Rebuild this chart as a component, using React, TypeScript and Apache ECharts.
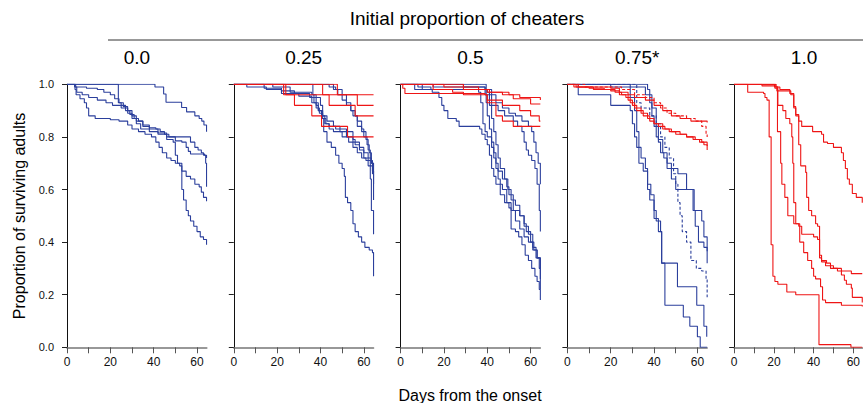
import React, { useEffect, useRef } from 'react';
import * as echarts from 'echarts';

type Curve = number[][];

const title = 'Initial proportion of cheaters';
const xTitle = 'Days from the onset';
const yTitle = 'Proportion of surviving adults';
const panelLabels = ['0.0', '0.25', '0.5', '0.75*', '1.0'];
const xTickValues = [0, 10, 20, 30, 40, 50, 60];
const xLabelValues = [0, 20, 40, 60];
const X_MAX = 64.5;

// Panel 0.0
const p1Blue: Curve[] = [
  [[0,1],[40.6,0.99],[44.6,0.963],[45.7,0.932],[52.9,0.912],[55.2,0.895],[59,0.88],[61,0.87],[62.2,0.86],[63.2,0.845],[64.4,0.82]],
  [[0,1],[3.7,0.98],[4.2,0.96],[6,0.945],[8,0.93],[9,0.91],[10,0.88],[13,0.87],[20,0.865],[24,0.86],[28,0.845],[30,0.83],[33,0.82],[36,0.81],[39,0.8],[41,0.78],[42.5,0.76],[44,0.74],[46,0.72],[48,0.71],[50,0.7],[52,0.69],[53,0.6],[53.8,0.56],[55,0.52],[56,0.5],[57,0.48],[58.5,0.46],[60,0.44],[61.5,0.42],[63,0.41],[64.4,0.39]],
  [[0,1],[23.7,0.93],[25,0.92],[27,0.9],[29,0.885],[31,0.87],[33,0.86],[35,0.845],[38,0.835],[41,0.83],[43,0.82],[45,0.81],[47,0.8],[55,0.8],[57,0.78],[59,0.76],[60.5,0.75],[62,0.74],[63,0.73],[64.4,0.72]],
  [[0,1],[4,0.99],[9,0.985],[14,0.98],[17,0.97],[20,0.96],[22,0.945],[24,0.93],[26,0.915],[28,0.9],[30,0.88],[32,0.86],[35,0.84],[38,0.83],[42,0.815],[46,0.8],[50,0.785],[53,0.78],[55,0.76],[56,0.745],[57,0.735],[63.5,0.73],[64,0.7],[64.4,0.61]],
  [[0,1],[3.5,0.99],[4.5,0.97],[7,0.96],[10,0.95],[14,0.94],[18,0.93],[21,0.92],[25,0.91],[28,0.89],[30,0.87],[32,0.85],[34,0.83],[38,0.82],[42,0.81],[46,0.79],[49,0.78],[50,0.73],[51,0.7],[53,0.67],[55,0.65],[57,0.64],[59,0.62],[61,0.61],[62,0.59],[63,0.57],[64.4,0.555]],
];

// Panel 0.25
const p2Blue: Curve[] = [
  [[0,1],[6,0.99],[15,0.98],[22,0.965],[30,0.955],[36,0.93],[39,0.9],[40.5,0.87],[41.5,0.82],[43,0.78],[45,0.76],[47,0.73],[48.5,0.7],[50,0.68],[51,0.65],[51.5,0.57],[52.5,0.55],[54,0.52],[55,0.47],[56,0.44],[57.5,0.42],[59,0.4],[60.5,0.38],[62.5,0.37],[64,0.36],[64.5,0.27]],
  [[0,1],[18,0.99],[26,0.97],[36,0.96],[37,0.93],[38,0.91],[39.5,0.89],[41,0.87],[42.5,0.85],[44,0.83],[46,0.82],[50,0.8],[53,0.78],[55,0.76],[57,0.74],[59,0.72],[61,0.71],[63,0.69],[64,0.67],[64.5,0.56]],
  [[0,1],[14,0.985],[22,0.975],[28,0.965],[35,0.95],[40,0.92],[41,0.88],[42,0.85],[44,0.84],[47,0.83],[52,0.82],[55,0.79],[56,0.77],[58,0.75],[60,0.72],[62,0.69],[63,0.64],[63.5,0.52],[64.5,0.43]],
  [[0,1],[36.5,0.96],[38,0.92],[39,0.9],[41,0.88],[43,0.86],[46,0.84],[49,0.82],[52,0.8],[55,0.78],[58,0.76],[60,0.74],[62,0.72],[63.5,0.7],[64.5,0.7]],
  [[0,1],[46,0.98],[48,0.96],[50,0.94],[52,0.92],[54,0.9],[56,0.88],[57,0.86],[59,0.83],[60,0.8],[61.5,0.77],[62.5,0.74],[63.5,0.7],[64.5,0.66]],
  [[0,1],[44,0.99],[47,0.98],[50,0.96],[52,0.93],[54,0.9],[55,0.88],[57,0.84],[59,0.82],[61,0.79],[62,0.75],[63,0.71],[64,0.66],[64.5,0.62]],
];
const p2Red: Curve[] = [
  [[0,1],[23,0.96],[28,0.92],[36,0.88],[40.5,0.84],[52.5,0.8],[64.5,0.8]],
  [[0,1],[24,0.96],[64.5,0.96]],
  [[0,1],[41,0.96],[44,0.92],[56,0.88],[64.5,0.88]],
  [[0,1],[47.8,0.96],[57,0.92],[64.5,0.92]],
];

// Panel 0.5
const p3Blue: Curve[] = [
  [[0,1],[39.5,0.98],[42,0.96],[44,0.93],[47,0.91],[50,0.89],[53,0.88],[56,0.86],[59,0.84],[60.5,0.82],[61.5,0.78],[62.5,0.74],[63.5,0.7],[64.5,0.62]],
  [[0,1],[29,0.99],[39,0.96],[42,0.92],[45,0.9],[48,0.88],[52,0.86],[54,0.84],[56,0.82],[57,0.78],[58,0.75],[59,0.73],[60.5,0.71],[62,0.68],[63,0.62],[64,0.52],[64.5,0.44]],
  [[0,1],[8,0.99],[14,0.98],[36,0.97],[37,0.93],[38,0.85],[39,0.82],[40,0.8],[42,0.76],[43,0.72],[44,0.68],[45,0.64],[46,0.62],[47,0.6],[49,0.55],[51,0.52],[53,0.48],[55,0.45],[57,0.42],[59,0.4],[61,0.37],[63,0.34],[64.5,0.3]],
  [[0,1],[15,0.99],[39,0.98],[39.5,0.93],[40,0.88],[41,0.83],[42,0.78],[43,0.74],[44,0.7],[45,0.67],[47,0.64],[49,0.61],[50,0.58],[52,0.52],[55,0.5],[57,0.47],[58,0.44],[60,0.4],[61.5,0.37],[63,0.34],[64.5,0.26]],
  [[0,1],[6.5,0.98],[14.6,0.97],[17.7,0.95],[19,0.92],[20,0.9],[21.8,0.87],[25.7,0.86],[27,0.84],[36.5,0.83],[37.5,0.81],[39,0.79],[40,0.77],[41,0.73],[42,0.68],[43,0.65],[44,0.62],[46,0.58],[48,0.55],[50,0.53],[51,0.45],[53,0.44],[54.5,0.42],[56,0.39],[57.5,0.35],[59,0.33],[60.5,0.3],[62,0.27],[63,0.25],[64,0.22],[64.5,0.18]],
  [[0,1],[10,0.98],[40,0.97],[41,0.92],[42,0.87],[43,0.82],[44,0.77],[45,0.72],[46,0.68],[48,0.64],[49.5,0.6],[51,0.56],[53,0.54],[55,0.5],[57,0.46],[59,0.43],[61,0.38],[62.5,0.34],[64,0.3],[64.5,0.22]],
];
const p3Red: Curve[] = [
  [[0,1],[1,0.985],[2,0.965],[39,0.96],[40,0.93],[44,0.88],[47,0.86],[52,0.84],[64.5,0.84]],
  [[0,1],[15,0.98],[24,0.97],[29,0.96],[40,0.94],[47,0.92],[55,0.9],[60,0.88],[64,0.86],[64.5,0.86]],
  [[0,1],[29,0.98],[40,0.97],[47,0.96],[52,0.945],[60,0.925],[64.5,0.925]],
  [[0,1],[20,0.99],[36,0.98],[41,0.97],[50,0.96],[55,0.95],[64.5,0.94]],
];

// Panel 0.75*
const p4Blue: Curve[] = [
  [[0,1],[5,0.96],[20,0.92],[29,0.9],[30,0.85],[31,0.8],[32,0.76],[33,0.7],[35,0.67],[37,0.6],[38,0.56],[40,0.49],[42,0.44],[43.5,0.32],[45,0.16],[53.5,0.115],[56.5,0.08],[60,0.04],[61.3,0],[64.5,0]],
  [[0,1],[20,0.99],[29,0.95],[31,0.9],[32,0.82],[33,0.76],[34,0.72],[36,0.68],[37,0.62],[38.5,0.58],[40,0.52],[41,0.48],[43,0.44],[43.5,0.32],[50.8,0.23],[59.7,0.16],[63,0.08],[64.3,0.04]],
  [[0,1],[37,0.98],[38,0.93],[39,0.88],[40,0.84],[41,0.8],[42,0.78],[43,0.74],[44.5,0.72],[46,0.68],[48,0.64],[50,0.6],[55,0.6],[58,0.52],[59,0.46],[60.5,0.4],[63,0.38],[64.5,0.32]],
  [[0,1],[29,0.99],[36,0.96],[39,0.91],[41,0.84],[42,0.79],[44,0.74],[46,0.7],[48,0.68],[51,0.66],[55,0.6],[58.5,0.52],[62,0.48],[63,0.42],[64.5,0.365]],
];
const p4BlueDashed: Curve[] = [
  [[0,1],[32,0.93],[34,0.91],[38,0.88],[41,0.85],[43,0.8],[45,0.76],[47,0.72],[49,0.66],[50,0.62],[51,0.55],[52,0.5],[53,0.44],[55,0.4],[57,0.33],[59.5,0.3],[62,0.29],[64,0.26],[64.5,0.19]],
];
const p4Red: Curve[] = [
  [[0,1],[3,0.99],[10,0.985],[17,0.98],[22,0.97],[25,0.96],[28,0.94],[30,0.92],[32,0.9],[35,0.88],[38,0.86],[40,0.85],[42,0.84],[45,0.83],[48,0.82],[52,0.81],[55,0.8],[58,0.79],[61,0.78],[63,0.77],[64.5,0.75]],
  [[0,1],[4,0.99],[12,0.98],[20,0.975],[24,0.96],[27,0.95],[29,0.93],[31,0.91],[34,0.89],[37,0.87],[40,0.85],[44,0.83],[47,0.82],[50,0.81],[55,0.8],[59,0.79],[62,0.78],[64.5,0.765]],
  [[0,1],[5,0.99],[20,0.985],[24,0.97],[28,0.96],[31,0.95],[36,0.94],[40,0.92],[44,0.9],[48,0.88],[52,0.87],[57,0.86],[64.5,0.855]],
];
const p4RedDashed: Curve[] = [
  [[0,1],[8,0.99],[25,0.98],[31,0.96],[36,0.95],[40,0.93],[43,0.91],[46,0.89],[50,0.88],[55,0.87],[59,0.86],[62,0.84],[64,0.81],[64.5,0.8]],
];

// Panel 1.0
const p5Red: Curve[] = [
  [[0,1],[6.8,0.97],[14.8,0.965],[15.5,0.95],[16.5,0.94],[17.6,0.8],[18.6,0.39],[19.5,0.27],[20.5,0.25],[22,0.24],[26.5,0.21],[31,0.2],[42.7,0.01],[58.8,0],[64.5,0]],
  [[0,1],[20.3,0.99],[21.8,0.82],[23.4,0.7],[24,0.62],[25.5,0.57],[27,0.5],[30,0.47],[32.5,0.46],[33,0.4],[35,0.36],[37,0.33],[39,0.3],[40,0.27],[41,0.26],[43.5,0.23],[44.5,0.18],[46,0.17],[54,0.16],[64.5,0.155]],
  [[0,1],[21,0.99],[22,0.92],[24.5,0.9],[26,0.87],[28,0.85],[29,0.8],[29.5,0.7],[30,0.55],[31,0.47],[33,0.46],[34,0.43],[40,0.42],[42,0.41],[43,0.34],[44,0.325],[46,0.31],[50,0.3],[54,0.29],[59,0.28],[64.5,0.28]],
  [[0,1],[21,0.99],[23,0.98],[28,0.965],[30,0.91],[31,0.88],[32.5,0.77],[33.5,0.69],[36,0.665],[36.5,0.57],[37.5,0.52],[39,0.5],[41,0.47],[42,0.46],[43,0.35],[44,0.33],[46.5,0.32],[48.5,0.3],[52,0.29],[54,0.275],[55.5,0.255],[56.5,0.24],[59,0.225],[59.5,0.19],[64.5,0.17]],
  [[0,1],[14,0.994],[20.5,0.985],[21.5,0.975],[28.5,0.96],[30,0.915],[31,0.885],[32.5,0.86],[34,0.84],[39.5,0.82],[44,0.81],[45,0.78],[47,0.775],[50,0.76],[54,0.74],[55,0.71],[56,0.68],[57,0.64],[58,0.62],[59.5,0.585],[61.5,0.57],[64.5,0.55]],
];

const panels = [
  { blue: p1Blue, blueDashed: [] as Curve[], red: [] as Curve[], redDashed: [] as Curve[] },
  { blue: p2Blue, blueDashed: [] as Curve[], red: p2Red, redDashed: [] as Curve[] },
  { blue: p3Blue, blueDashed: [] as Curve[], red: p3Red, redDashed: [] as Curve[] },
  { blue: p4Blue, blueDashed: p4BlueDashed, red: p4Red, redDashed: p4RedDashed },
  { blue: [] as Curve[], blueDashed: [] as Curve[], red: p5Red, redDashed: [] as Curve[] },
];

const BLUE = '#2b3f9c';
const RED = '#ee1515';
const FONT = "'Liberation Sans', Arial, Helvetica, sans-serif";

const LEFT0 = 67;
const STEP = 166.8;
const WIDTH = 139.75;
const TOP = 84.3;
const HEIGHT = 263;

export default function App() {
  const ref = useRef<HTMLDivElement>(null);
  useEffect(() => {
    if (!ref.current) return;
    const chart = echarts.init(ref.current, undefined, { renderer: 'svg' });
    const grids: any[] = [];
    const xAxes: any[] = [];
    const yAxes: any[] = [];
    const series: any[] = [];
    const graphics: any[] = [];
    panels.forEach((p, i) => {
      const left = LEFT0 + STEP * i;
      grids.push({ left, top: TOP, width: WIDTH, height: HEIGHT, containLabel: false });
      xAxes.push({
        type: 'value', gridIndex: i, min: 0, max: X_MAX,
        axisLine: { show: true, onZero: false, lineStyle: { color: '#777', width: 1.6 } },
        axisTick: { show: true, length: 6, customValues: xTickValues, lineStyle: { color: '#555', width: 1 } },
        axisLabel: { show: true, customValues: xLabelValues, fontSize: 12, color: '#111', margin: 9, fontFamily: FONT },
        splitLine: { show: false },
      });
      yAxes.push({
        type: 'value', gridIndex: i, min: 0, max: 1, interval: 0.2,
        axisLine: { show: true, onZero: false, lineStyle: { color: '#111', width: 1 } },
        axisTick: { show: true, length: 5, lineStyle: { color: '#222', width: 1 } },
        axisLabel: { show: i === 0, fontSize: 11, color: '#111', margin: 13, fontFamily: FONT, formatter: (v: number) => v.toFixed(1) },
        splitLine: { show: false },
      });
      const add = (curves: Curve[], color: string, dashed: boolean) => {
        curves.forEach((c) => {
          series.push({
            type: 'line', xAxisIndex: i, yAxisIndex: i, data: c, step: 'end',
            symbol: 'none', showSymbol: false, silent: true,
            lineStyle: { color, width: 1.1, type: dashed ? [3, 2] : 'solid' },
          });
        });
      };
      add(p.blue, BLUE, false);
      add(p.blueDashed, BLUE, true);
      add(p.red, RED, false);
      add(p.redDashed, RED, true);
      graphics.push({
        type: 'text', x: left + WIDTH / 2, y: 57,
        style: { text: panelLabels[i], font: `19px ${FONT}`, fill: '#000', align: 'center', verticalAlign: 'middle' },
      });
    });
    graphics.push({
      type: 'text', x: 467, y: 18,
      style: { text: title, font: `19px ${FONT}`, fill: '#000', align: 'center', verticalAlign: 'middle' },
    });
    graphics.push({
      type: 'line', shape: { x1: 108, y1: 40, x2: 863, y2: 40 },
      style: { stroke: '#333', lineWidth: 1 },
    });
    graphics.push({
      type: 'text', x: 470, y: 395,
      style: { text: xTitle, font: `16px ${FONT}`, fill: '#000', align: 'center', verticalAlign: 'middle' },
    });
    graphics.push({
      type: 'text', x: 19, y: 216, rotation: Math.PI / 2,
      style: { text: yTitle, font: `16px ${FONT}`, fill: '#000', align: 'center', verticalAlign: 'middle' },
    });
    chart.setOption({
      animation: false,
      backgroundColor: '#fff',
      grid: grids,
      xAxis: xAxes,
      yAxis: yAxes,
      series,
      graphic: graphics,
    });
    return () => chart.dispose();
  }, []);
  return <div ref={ref} style={{ position: 'absolute', left: 0, top: 0, width: 863, height: 403 }} />;
}
